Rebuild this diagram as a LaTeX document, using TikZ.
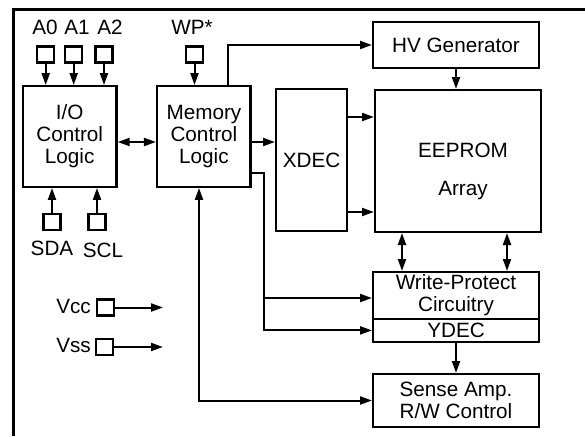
\documentclass[tikz,border=0pt]{standalone}
\usepackage{fontspec}
\setmainfont{Liberation Sans}
\usetikzlibrary{arrows.meta}

\tikzset{
  blk/.style={draw, line width=2.4pt, align=center, inner sep=0pt},
  pinbox/.style={draw, line width=2.2pt, minimum width=17pt, minimum height=16pt, inner sep=0pt},
  txt/.style={inner sep=0pt},
  sig/.style={line width=2pt, -{Triangle[length=12pt,width=8pt]}},
  bisig/.style={line width=2pt, {Triangle[length=12pt,width=8pt]}-{Triangle[length=12pt,width=8pt]}},
  frame/.style={line width=2.7pt}
}

\begin{document}
\begin{tikzpicture}[x=1pt, y=-1pt, font=\fontsize{20.7}{22}\selectfont]
  \useasboundingbox (0,0) rectangle (585,436);
  \draw[frame] (13.5,436) -- (13.5,9.5) -- (585,9.5);

  % blocks
  \node[blk, minimum width=93.5pt, minimum height=100.5pt] (io) at (69.7,136.5) {I/O\\Control\\Logic};
  \node[blk, minimum width=93.5pt, minimum height=100.5pt] (mem) at (203.9,136.5) {Memory\\Control\\Logic};
  \node[blk, minimum width=70.6pt, minimum height=141.6pt] (xdec) at (311.5,160) {XDEC};
  \node[blk, minimum width=165.6pt, minimum height=45.6pt] (hv) at (456,45) {HV Generator};
  \node[blk, minimum width=165.6pt, minimum height=141.6pt] (eeprom) at (458,161) {};
  \node[txt, align=center] (eetext) at (463,171) {EEPROM\\[16pt]Array};
  \node[blk, minimum width=165.6pt, minimum height=46.8pt] (wp) at (456,295.6) {Write-Protect\\Circuitry};
  \node[blk, minimum width=165.6pt, minimum height=22.8pt] (ydec) at (456,330.4) {YDEC};
  \node[blk, minimum width=165.6pt, minimum height=52.6pt] (sense) at (456,400.5) {Sense Amp.\\R/W Control};

  % pins
  \node[pinbox] (a0) at (45.7,54.5) {};
  \node[pinbox] (a1) at (73.7,54.5) {};
  \node[pinbox] (a2) at (104,54.5) {};
  \node[pinbox] (wpin) at (194.5,54.5) {};
  \node[pinbox] (sda) at (52,222) {};
  \node[pinbox] (scl) at (97,222) {};
  \node[pinbox] (vcc) at (105.5,307.5) {};
  \node[pinbox] (vss) at (104.5,347) {};

  % pin labels
  \node[txt] (la0) at (45,27.5) {A0};
  \node[txt] (la1) at (77,27.5) {A1};
  \node[txt] (la2) at (110,27.5) {A2};
  \node[txt] (lwp) at (192,27.5) {WP*};
  \node[txt] (lsda) at (52,248.5) {SDA};
  \node[txt] (lscl) at (103,250) {SCL};
  \node[txt, anchor=east] (lvcc) at (91,306) {Vcc};
  \node[txt, anchor=east] (lvss) at (91,345) {Vss};

  % connectors
  \foreach \p in {a0,a1,a2}
    \draw[sig] (\p.south) -- (\p.south |- io.north);
  \draw[sig] (wpin.south) -- (wpin.south |- mem.north);
  \foreach \p in {sda,scl}
    \draw[sig] (\p.north) -- (\p.north |- io.south);
  \draw[bisig] (io.east |- 0,142) -- (mem.west |- 0,142);
  \draw[sig] (mem.east |- 0,142) -- (xdec.west |- 0,142);
  \draw[sig] (mem.north -| 228,0) |- (hv.west);
  \draw[sig] (hv.south) -- (hv.south |- eeprom.north);
  \foreach \y in {117,212}
    \draw[sig] (xdec.east |- 0,\y) -- (eeprom.west |- 0,\y);
  \foreach \x in {402,507}
    \draw[bisig] (eeprom.south -| \x,0) -- (wp.north -| \x,0);
  \draw[sig] (ydec.south) -- (sense.north);
  \draw[sig] (mem.east |- 0,173) -| (264,330.4) -- (ydec.west);
  \draw[sig] (264,298) -- (wp.west |- 0,298);
  \draw[bisig] (mem.south -| 199,0) |- (sense.west);
  \draw[sig] (vcc.east) -- (vcc.east -| 163,0);
  \draw[sig] (vss.east) -- (vss.east -| 163,0);
\end{tikzpicture}
\end{document}
